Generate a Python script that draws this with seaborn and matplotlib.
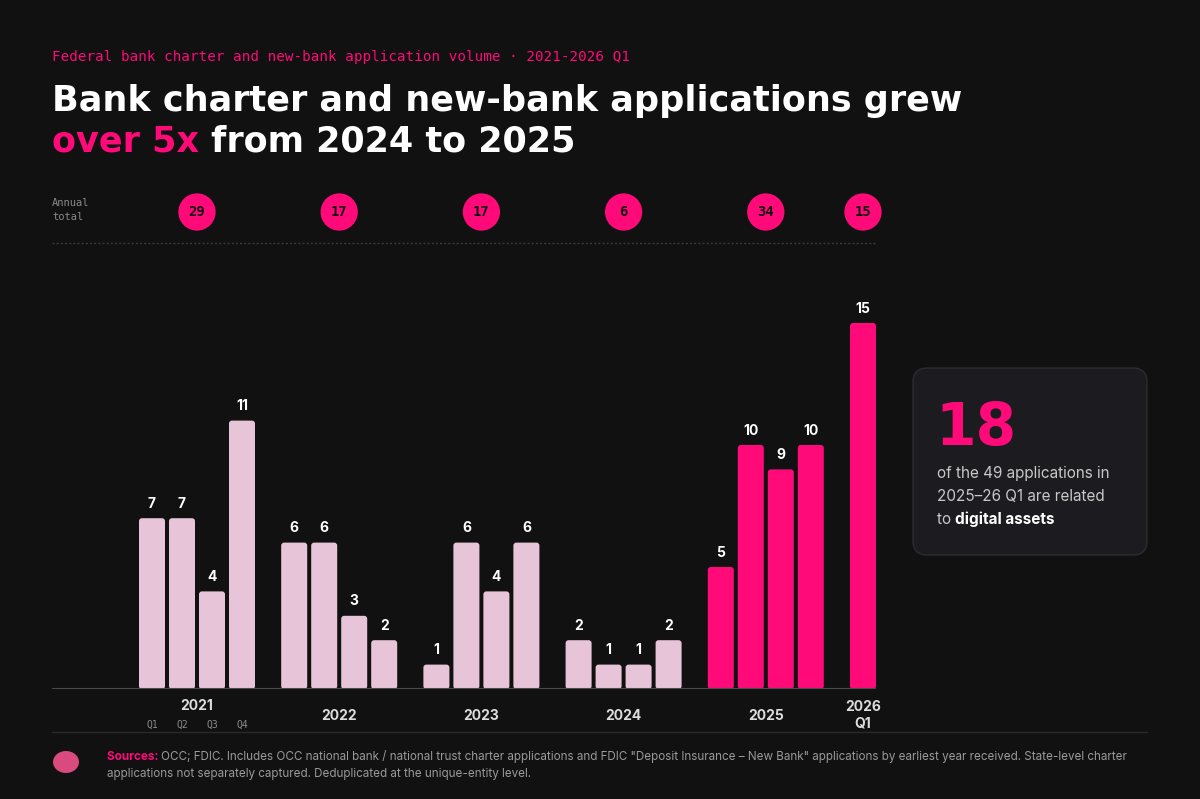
import numpy as np
import pandas as pd
import matplotlib
matplotlib.use('Agg')
import matplotlib.pyplot as plt
import matplotlib.transforms as mtransforms
from matplotlib.patches import FancyBboxPatch, Ellipse
import seaborn as sns

# ---- data ----
years = ['2021', '2022', '2023', '2024', '2025', '2026']
quarters = ['Q1', 'Q2', 'Q3', 'Q4']
q_2021 = [7, 7, 4, 11]
q_2022 = [6, 6, 3, 2]
q_2023 = [1, 6, 4, 6]
q_2024 = [2, 1, 1, 2]
q_2025 = [5, 10, 9, 10]
q_2026 = [15]
annual_totals = [29, 17, 17, 6, 34, 15]
highlight_years = ['2025', '2026']

BG = '#111111'
PINK = '#FF0A78'
LIGHT = '#E8C4D8'
W, H = 1200, 799

sns.set_theme(style='white')
plt.rcParams['font.family'] = ['Inter', 'DejaVu Sans']

# layout: one unit per quarter, groups offset
GROUP_STEP = 4.74
rows = []
for g, (yr, vals) in enumerate(zip(years, [q_2021, q_2022, q_2023, q_2024, q_2025, q_2026])):
    for q, v in enumerate(vals):
        rows.append({'year': yr, 'quarter': quarters[q], 'pos': g * GROUP_STEP + q, 'value': v,
                     'grp': 'hi' if yr in highlight_years else 'lo'})
df = pd.DataFrame(rows)
centers = df.groupby('year', sort=False)['pos'].mean()

fig = plt.figure(figsize=(12, 7.99), dpi=100, facecolor=BG)


def fx(px):
    return px / W


def fy(py):
    return 1 - py / H


PX_PER_UNIT = 24.4
base_py, top_py = 689, 250
ax = fig.add_axes([fx(52), fy(base_py), fx(876) - fx(52), (base_py - top_py) / H])
ax.set_facecolor(BG)
sns.barplot(data=df, x='pos', y='value', hue='grp', palette={'lo': LIGHT, 'hi': PINK},
            native_scale=True, width=0.867, dodge=False, legend=False, saturation=1, ax=ax)
ax.set_xlim((52 - 152) / 30, (876 - 152) / 30)
ax.set_ylim(0, (base_py - top_py) / PX_PER_UNIT)

# rounded tops
for p in list(ax.patches):
    x0, y0, w, h = p.get_x(), p.get_y(), p.get_width(), p.get_height()
    fc = p.get_facecolor()
    p.remove()
    ax.add_patch(FancyBboxPatch((x0, y0), w, h, boxstyle='round,pad=0,rounding_size=0.1',
                                mutation_aspect=1.2, facecolor=fc, edgecolor='none'))

for _, r in df.iterrows():
    ax.text(r['pos'], r['value'] + 0.3, str(r['value']), ha='center', va='bottom',
            color='white', fontsize=10, fontweight='bold')

ax.axhline(0, color='#4a4a4a', lw=1.5)
sns.despine(ax=ax, left=True, bottom=True)
ax.set_xticks([])
ax.set_yticks([])
ax.set_xlabel('')
ax.set_ylabel('')

# year labels below
tr = mtransforms.blended_transform_factory(ax.transData, fig.transFigure)
for yr in years:
    c = centers[yr]
    if yr == '2021':
        ax.text(c, fy(706), yr, transform=tr, ha='center', va='center', color='#dddddd',
                fontsize=10, fontweight='bold')
        for q, pos in enumerate(df[df['year'] == yr]['pos']):
            ax.text(pos, fy(725), quarters[q], transform=tr, ha='center', va='center',
                    color='#8a8a8a', fontsize=7, family='DejaVu Sans Mono')
    elif yr == '2026':
        ax.text(c, fy(707), yr, transform=tr, ha='center', va='center', color='#dddddd',
                fontsize=10, fontweight='bold')
        ax.text(c, fy(723), 'Q1', transform=tr, ha='center', va='center', color='#dddddd',
                fontsize=10, fontweight='bold')
    else:
        ax.text(c, fy(716), yr, transform=tr, ha='center', va='center', color='#dddddd',
                fontsize=10, fontweight='bold')

# annual totals row
ax_top = fig.add_axes([fx(52), fy(231), fx(876) - fx(52), (231 - 193) / H])
ax_top.set_facecolor('none')
tot = pd.DataFrame({'pos': centers.values, 'y': 0.5, 'total': annual_totals})
sns.scatterplot(data=tot, x='pos', y='y', s=720, color=PINK, edgecolor='none', ax=ax_top)
for coll in ax_top.collections:
    coll.set_clip_on(False)
for _, r in tot.iterrows():
    ax_top.text(r['pos'], 0.5, str(int(r['total'])), ha='center', va='center',
                color='#111111', fontsize=10, fontweight='bold', family='DejaVu Sans Mono')
ax_top.set_xlim(ax.get_xlim())
ax_top.set_ylim(0, 1)
ax_top.axis('off')

fig.text(fx(52), fy(210), 'Annual\ntotal', ha='left', va='center', color='#8a8a8a',
         fontsize=7.5, family='DejaVu Sans Mono', linespacing=1.4)
fig.add_artist(plt.Line2D([fx(52), fx(876)], [fy(243), fy(243)], color='#3a3a3a',
                          lw=1, ls=(0, (1.5, 1.5))))

# header
fig.text(fx(52), fy(57), 'Federal bank charter and new-bank application volume · 2021-2026 Q1',
         ha='left', va='center', color=PINK, fontsize=10.3, family='DejaVu Sans Mono')

renderer = fig.canvas.get_renderer()


def run_text(x_px, y_px, parts, **common):
    x = x_px
    for s, kw in parts:
        t = fig.text(fx(x), fy(y_px), s, ha='left', va='baseline', **common, **kw)
        bb = t.get_window_extent(renderer=renderer)
        x += bb.width


title_font = dict(fontsize=25.2, fontweight='bold', family='DejaVu Sans')
run_text(52, 111, [('Bank charter and new-bank applications grew', dict(color='white'))], **title_font)
run_text(52, 152, [('over 5x', dict(color=PINK)), (' from 2024 to 2025', dict(color='white'))],
         **title_font)

# callout card
card = FancyBboxPatch((fx(913), fy(555)), fx(1147) - fx(913), (555 - 368) / H,
                      boxstyle='round,pad=0,rounding_size=0.012', transform=fig.transFigure,
                      facecolor='#1c1c20', edgecolor='#2c2c31', lw=1, mutation_aspect=1.5)
fig.add_artist(card)
fig.text(fx(935), fy(445), '18', ha='left', va='baseline', color=PINK, fontsize=42,
         fontweight='bold', family='DejaVu Sans')
body = dict(fontsize=11, color='#c8c8c8')
fig.text(fx(937), fy(478), 'of the 49 applications in', ha='left', va='baseline', **body)
fig.text(fx(937), fy(501), '2025–26 Q1 are related', ha='left', va='baseline', **body)
run_text(937, 524, [('to ', dict(color='#c8c8c8')), ('digital assets', dict(color='white', fontweight='bold'))],
         fontsize=11)

# footer
fig.add_artist(plt.Line2D([fx(52), fx(1147)], [fy(732), fy(732)], color='#2a2a2a', lw=1))
fig.add_artist(Ellipse((fx(66), fy(762)), 26 / W, 22 / H, transform=fig.transFigure,
                       facecolor='#d94a7e', edgecolor='none'))
foot = dict(fontsize=8.4, color='#9a9a9a')
run_text(107, 760, [('Sources: ', dict(color=PINK, fontweight='bold')),
                    ('OCC; FDIC. Includes OCC national bank / national trust charter applications and FDIC '
                     '"Deposit Insurance – New Bank" applications by earliest year received. State-level charter',
                     dict(color='#9a9a9a'))], fontsize=8.4)
fig.text(fx(107), fy(777), 'applications not separately captured. Deduplicated at the unique-entity level.',
         ha='left', va='baseline', **foot)

fig.savefig('out.png', dpi=100, facecolor=BG)
